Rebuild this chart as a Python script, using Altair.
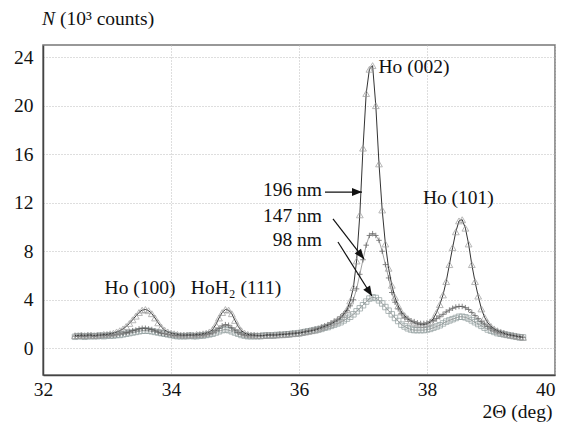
import altair as alt
import pandas as pd

# 2-theta sampling positions (deg)
two_theta = [
    32.50, 32.55, 32.60, 32.65, 32.70, 32.75, 32.80, 32.85, 32.90, 32.95,
    33.00, 33.05, 33.10, 33.15, 33.20, 33.25, 33.30, 33.35, 33.40, 33.45,
    33.50, 33.55, 33.60, 33.65, 33.70, 33.75, 33.80, 33.85, 33.90, 33.95,
    34.00, 34.05, 34.10, 34.15, 34.20, 34.25, 34.30, 34.35, 34.40, 34.45,
    34.50, 34.55, 34.60, 34.65, 34.70, 34.75, 34.80, 34.85, 34.90, 34.95,
    35.00, 35.05, 35.10, 35.15, 35.20, 35.25, 35.30, 35.35, 35.40, 35.45,
    35.50, 35.55, 35.60, 35.65, 35.70, 35.75, 35.80, 35.85, 35.90, 35.95,
    36.00, 36.05, 36.10, 36.15, 36.20, 36.25, 36.30, 36.35, 36.40, 36.45,
    36.50, 36.55, 36.60, 36.65, 36.70, 36.75, 36.80, 36.85, 36.90, 36.95,
    37.00, 37.05, 37.10, 37.15, 37.20, 37.25, 37.30, 37.35, 37.40, 37.45,
    37.50, 37.55, 37.60, 37.65, 37.70, 37.75, 37.80, 37.85, 37.90, 37.95,
    38.00, 38.05, 38.10, 38.15, 38.20, 38.25, 38.30, 38.35, 38.40, 38.45,
    38.50, 38.55, 38.60, 38.65, 38.70, 38.75, 38.80, 38.85, 38.90, 38.95,
    39.00, 39.05, 39.10, 39.15, 39.20, 39.25, 39.30, 39.35, 39.40, 39.45,
    39.50,
]

# N (10^3 counts), 196 nm film (triangles)
counts_196 = [
    1.05, 1.05, 1.10, 1.05, 1.10, 1.10, 1.05, 1.10, 1.10, 1.15,
    1.15, 1.20, 1.25, 1.35, 1.45, 1.60, 1.80, 2.05, 2.35, 2.65,
    2.95, 3.15, 3.20, 3.10, 2.85, 2.50, 2.10, 1.75, 1.50, 1.35,
    1.25, 1.20, 1.15, 1.10, 1.10, 1.10, 1.10, 1.10, 1.15, 1.15,
    1.20, 1.25, 1.35, 1.55, 1.95, 2.50, 2.95, 3.20, 3.15, 2.85,
    2.30, 1.80, 1.45, 1.25, 1.15, 1.10, 1.10, 1.05, 1.05, 1.05,
    1.10, 1.10, 1.10, 1.10, 1.15, 1.15, 1.15, 1.20, 1.20, 1.25,
    1.25, 1.30, 1.35, 1.40, 1.45, 1.50, 1.60, 1.70, 1.80, 1.90,
    2.00, 2.15, 2.30, 2.50, 2.80, 3.20, 3.90, 5.00, 7.20, 11.0,
    16.5, 21.0, 23.0, 23.3, 20.0, 15.2, 11.4, 8.60, 6.60, 5.20,
    4.20, 3.50, 3.00, 2.70, 2.45, 2.25, 2.10, 2.00, 1.95, 1.95,
    2.00, 2.15, 2.45, 2.95, 3.60, 4.40, 5.50, 6.90, 8.30, 9.60,
    10.5, 10.6, 9.90, 8.60, 6.90, 5.50, 4.30, 3.25, 2.55, 2.10,
    1.80, 1.60, 1.45, 1.35, 1.25, 1.15, 1.10, 1.05, 1.00, 0.95,
    0.90,
]

# 147 nm film (crosses)
counts_147 = [
    1.00, 1.00, 1.05, 1.00, 1.05, 1.05, 1.00, 1.05, 1.05, 1.05,
    1.10, 1.10, 1.10, 1.15, 1.20, 1.25, 1.30, 1.35, 1.45, 1.50,
    1.60, 1.65, 1.65, 1.60, 1.55, 1.45, 1.35, 1.25, 1.20, 1.15,
    1.10, 1.05, 1.05, 1.05, 1.05, 1.05, 1.10, 1.05, 1.05, 1.10,
    1.10, 1.15, 1.20, 1.30, 1.45, 1.65, 1.85, 1.95, 1.90, 1.70,
    1.50, 1.30, 1.20, 1.10, 1.05, 1.05, 1.05, 1.05, 1.05, 1.05,
    1.10, 1.10, 1.10, 1.10, 1.15, 1.15, 1.20, 1.20, 1.25, 1.25,
    1.30, 1.35, 1.40, 1.45, 1.50, 1.60, 1.65, 1.75, 1.85, 1.95,
    2.10, 2.25, 2.40, 2.60, 2.85, 3.10, 3.50, 4.00, 4.90, 6.10,
    7.30, 8.50, 9.30, 9.45, 9.30, 8.90, 8.00, 6.90, 5.80, 4.60,
    3.80, 3.25, 2.85, 2.55, 2.40, 2.25, 2.20, 2.10, 2.05, 2.05,
    2.10, 2.20, 2.30, 2.45, 2.60, 2.80, 3.00, 3.15, 3.30, 3.40,
    3.45, 3.45, 3.35, 3.20, 2.95, 2.70, 2.45, 2.20, 2.00, 1.80,
    1.65, 1.50, 1.40, 1.30, 1.25, 1.15, 1.10, 1.05, 1.00, 0.95,
    0.90,
]

# 98 nm film (squares)
counts_98 = [
    0.95, 1.00, 1.00, 0.95, 1.00, 1.00, 1.00, 1.00, 1.05, 1.00,
    1.05, 1.05, 1.05, 1.10, 1.10, 1.15, 1.20, 1.25, 1.30, 1.35,
    1.40, 1.45, 1.45, 1.45, 1.40, 1.35, 1.30, 1.25, 1.20, 1.15,
    1.10, 1.05, 1.00, 1.00, 1.00, 1.00, 1.05, 1.00, 1.00, 1.05,
    1.05, 1.10, 1.15, 1.20, 1.30, 1.40, 1.50, 1.55, 1.50, 1.40,
    1.30, 1.20, 1.10, 1.05, 1.00, 1.00, 1.00, 1.00, 1.00, 1.05,
    1.05, 1.05, 1.05, 1.10, 1.10, 1.10, 1.15, 1.15, 1.20, 1.20,
    1.25, 1.30, 1.35, 1.40, 1.45, 1.50, 1.55, 1.60, 1.70, 1.75,
    1.85, 1.95, 2.05, 2.15, 2.30, 2.45, 2.60, 2.80, 3.05, 3.30,
    3.55, 3.85, 4.10, 4.20, 4.15, 3.95, 3.70, 3.40, 3.10, 2.80,
    2.50, 2.25, 1.95, 1.80, 1.65, 1.55, 1.50, 1.50, 1.50, 1.50,
    1.55, 1.60, 1.70, 1.80, 1.90, 2.05, 2.20, 2.30, 2.40, 2.50,
    2.60, 2.60, 2.55, 2.45, 2.30, 2.15, 2.00, 1.85, 1.70, 1.55,
    1.45, 1.35, 1.25, 1.20, 1.15, 1.10, 1.05, 1.00, 0.95, 0.90,
    0.90,
]

# Peak labels
peak_labels = ["Ho (100)", "HoH\u2082 (111)", "Ho (002)", "Ho (101)"]
peak_x = [33.516, 35.016, 37.797, 38.49]
peak_y = [4.48, 4.48, 22.7, 11.9]

# Thickness labels and arrows
size_labels = ["196 nm", "147 nm", "98 nm"]
size_label_x = [36.359, 36.359, 36.359]
size_label_y = [12.55, 10.45, 8.43]
arrow_x0 = [36.406, 36.531, 36.609]
arrow_y0 = [12.88, 10.66, 8.76]
arrow_x1 = [36.984, 37.016, 37.14]
arrow_y1 = [12.88, 7.36, 4.31]
arrow_angle = [90, 142, 148]

x_ticks = [32, 34, 36, 38, 40]
y_ticks = [0, 4, 8, 12, 16, 20, 24]

FONT = "Liberation Serif"
FS = 19.5

xs = alt.Scale(domain=[32, 40], nice=False, zero=False)
ys = alt.Scale(domain=[-2.2, 25], nice=False, zero=False)

x_axis = alt.Axis(values=x_ticks, title="2\u0398 (deg)", grid=True,
                  gridColor="#bdbdbd", gridDash=[1, 2], gridWidth=1,
                  ticks=False, tickSize=0, labelPadding=20,
                  labelBaseline="alphabetic", labelFont=FONT,
                  labelFontSize=FS, labelColor="#111",
                  labelAlign={"condition": {"test": "datum.value >= 40",
                                            "value": "right"},
                              "value": "center"},
                  titleFont=FONT, titleFontSize=FS,
                  titleFontWeight="normal", titleColor="#111",
                  titleX=474, titleY=42, titleAlign="center",
                  titleBaseline="alphabetic",
                  domainColor="#444", domainWidth=1.5, labelFlush=False)
y_axis = alt.Axis(values=y_ticks, title="", grid=True,
                  gridColor="#bdbdbd", gridDash=[1, 2], gridWidth=1,
                  ticks=False, tickSize=0, labelPadding=10,
                  labelFont=FONT, labelFontSize=FS, labelColor="#111",
                  domainColor="#444", domainWidth=1.5)


def X(f="x"):
    return alt.X(f"{f}:Q", scale=xs, axis=x_axis, title="2\u0398 (deg)")


def Y(f="y"):
    return alt.Y(f"{f}:Q", scale=ys, axis=y_axis, title="")


df196 = pd.DataFrame({"x": two_theta, "y": counts_196})
df147 = pd.DataFrame({"x": two_theta, "y": counts_147})
df98 = pd.DataFrame({"x": two_theta, "y": counts_98})
dfpeak = pd.DataFrame({"x": peak_x, "y": peak_y, "t": peak_labels})
dfsize = pd.DataFrame({"x": size_label_x, "y": size_label_y, "t": size_labels})
dfarrow = pd.DataFrame({"x": arrow_x0, "y": arrow_y0, "x2": arrow_x1,
                        "y2": arrow_y1, "ang": arrow_angle})

line98 = alt.Chart(df98).mark_line(color="#777", strokeWidth=0.7).encode(
    x=X(), y=Y())
pts98 = alt.Chart(df98).mark_point(shape="square", size=30, filled=False,
                                    stroke="#8d9a9a", strokeWidth=1).encode(
    x=X(), y=Y())

line147 = alt.Chart(df147).mark_line(color="#777", strokeWidth=0.7).encode(
    x=X(), y=Y())
pts147 = alt.Chart(df147).mark_point(shape="M-1,0L1,0M0,-1L0,1", size=30,
                                      filled=False, stroke="#555",
                                      strokeWidth=1).encode(
    x=X(), y=Y())

line196 = alt.Chart(df196).mark_line(color="#333", strokeWidth=1).encode(
    x=X(), y=Y())
pts196 = alt.Chart(df196).mark_point(shape="triangle-up", size=46,
                                      filled=False, stroke="#999",
                                      strokeWidth=1).encode(
    x=X(), y=Y())

peak_text = alt.Chart(dfpeak).mark_text(font=FONT, fontSize=FS, color="#111",
                                         align="center",
                                         baseline="alphabetic").encode(
    x=X(), y=Y(), text="t:N")

size_text = alt.Chart(dfsize).mark_text(font=FONT, fontSize=FS, color="#111",
                                         align="right",
                                         baseline="alphabetic").encode(
    x=X(), y=Y(), text="t:N")

arrows = alt.Chart(dfarrow).mark_rule(color="#111", strokeWidth=1.2).encode(
    x=X(), y=Y(), x2="x2:Q", y2="y2:Q")

heads = alt.Chart(dfarrow).mark_point(shape="M0,0L-0.4,1L0.4,1Z", size=400,
                                       filled=True, color="#111",
                                       strokeWidth=0, opacity=1).encode(
    x=X("x2"), y=Y("y2"), angle=alt.Angle("ang:Q", scale=None))

# y-axis title: italic N + (10^3 counts)
ytitle_n = alt.Chart(pd.DataFrame({"t": ["N"]})).mark_text(
    font=FONT, fontSize=FS, fontStyle="italic", color="#111", align="left",
    baseline="alphabetic").encode(x=alt.value(-1), y=alt.value(-20), text="t:N")
ytitle_rest = alt.Chart(pd.DataFrame({"t": ["(10\u00b3 counts)"]})).mark_text(
    font=FONT, fontSize=FS, color="#111", align="left",
    baseline="alphabetic").encode(x=alt.value(17), y=alt.value(-20), text="t:N")

chart = alt.layer(
    line98, pts98, line147, pts147, line196, pts196,
    peak_text, size_text, arrows, heads, ytitle_n, ytitle_rest,
).properties(
    width=512, height=330,
    padding={"left": 35, "top": 37, "right": 4, "bottom": 47},
    autosize=alt.AutoSizeParams(type="none"),
    background="white",
).configure_view(stroke="#777", strokeWidth=1.5)

chart.save("out.html", embed_options={"renderer": "svg", "actions": False})
